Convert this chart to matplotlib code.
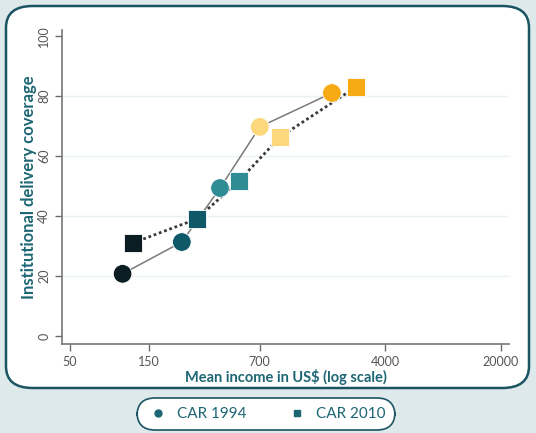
import numpy as np
import matplotlib
matplotlib.use("Agg")
from matplotlib import pyplot as plt
from matplotlib.patches import FancyBboxPatch
from matplotlib.lines import Line2D

plt.rcParams['font.family'] = ['Lato', 'DejaVu Sans']

# data (quintiles, poorest -> richest)
income_1994 = [104, 237, 403, 701, 1910]
coverage_1994 = [20.7, 31.3, 49.3, 69.7, 81.0]
income_2010 = [120, 292, 525, 927, 2670]
coverage_2010 = [31.0, 39.0, 51.7, 66.3, 83.0]
quintile_colors = ["#0b1c22", "#0e5868", "#2f8c95", "#fdd77c", "#f8aa14"]
x_ticks = [50, 150, 700, 4000, 20000]
y_ticks = [0, 20, 40, 60, 80, 100]

teal = "#1d6673"
fig = plt.figure(figsize=(5.36, 4.33), dpi=100)
fig.patch.set_facecolor("#dde9eb")

# white rounded panel behind the chart
panel = FancyBboxPatch((6/536, 1-388/433), 523/536, 382/433,
                       boxstyle="round,pad=0,rounding_size=0.05",
                       transform=fig.transFigure, facecolor="white",
                       edgecolor="#1b5563", linewidth=1.8, zorder=-5)
fig.patches.append(panel)

ax = fig.add_axes([62/536, 1-344/433, 447/536, 314/433])
ax.set_facecolor("none")
ax.set_xscale("log")
ax.set_xlim(44.8, 22400)
ax.set_ylim(-2.7, 102)

for y in [20, 40, 60, 80]:
    ax.axhline(y, color="#eaf3f3", linewidth=1, zorder=0)

ax.plot(income_1994, coverage_1994, color="#7a7a7a", linewidth=1.1, zorder=2)
ax.plot(income_2010, coverage_2010, color="#3a3a3a", linewidth=2, linestyle=(0, (1, 1)), zorder=2)
ax.scatter(income_1994, coverage_1994, s=180, marker="o", c=quintile_colors,
           edgecolors="white", linewidths=0.6, zorder=3)
ax.scatter(income_2010, coverage_2010, s=180, marker="s", c=quintile_colors,
           edgecolors="white", linewidths=0.6, zorder=3)

ax.set_xticks(x_ticks)
ax.set_xticklabels([str(t) for t in x_ticks])
ax.xaxis.set_minor_locator(matplotlib.ticker.NullLocator())
ax.set_yticks(y_ticks)
ax.set_yticklabels([str(t) for t in y_ticks], rotation=90, va="center")
ax.tick_params(colors="#6b6b6b", labelsize=9, length=5, width=1)
for lab in ax.get_xticklabels() + ax.get_yticklabels():
    lab.set_color("#555555")

for s in ["top", "right"]:
    ax.spines[s].set_visible(False)
for s in ["left", "bottom"]:
    ax.spines[s].set_color("#777777")
    ax.spines[s].set_linewidth(1.2)

ax.set_xlabel("Mean income in US$ (log scale)", color=teal, fontweight="bold", fontsize=10.5, labelpad=1)
ax.set_ylabel("Institutional delivery coverage", color=teal, fontweight="bold", fontsize=12, labelpad=1)

handles = [Line2D([], [], marker="o", linestyle="none", color=teal, markersize=5),
           Line2D([], [], marker="s", linestyle="none", color=teal, markersize=5)]
leg = fig.legend(handles, ["CAR 1994", "CAR 2010"], loc="center",
                 bbox_to_anchor=(266/536, 1-414/433), ncol=2, frameon=True,
                 fancybox=True, fontsize=11, handletextpad=0.5, columnspacing=2.6,
                 borderpad=0.4, handlelength=1.5, framealpha=1)
for t in leg.get_texts():
    t.set_color(teal)
frame = leg.get_frame()
frame.set_edgecolor("#1b5563")
frame.set_facecolor("white")
frame.set_linewidth(1.2)
frame.set_boxstyle("round,pad=0.2,rounding_size=1.2")

fig.savefig("out.png", dpi=100)
